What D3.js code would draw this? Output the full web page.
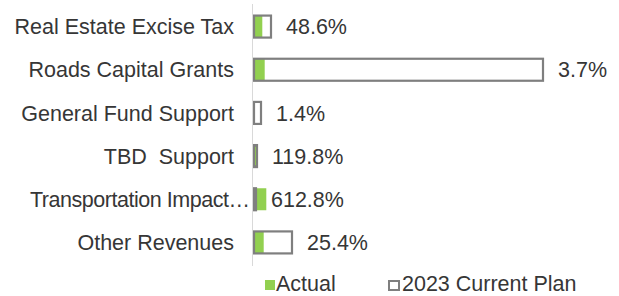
<!DOCTYPE html>
<html>
<head>
<meta charset="utf-8">
<script src="https://cdn.jsdelivr.net/npm/d3@7"></script>
<style>
	body { margin: 0; background: #fff; }
	text { font-family: 'Liberation Sans', Arial, sans-serif; fill: #363636; white-space: pre; }
</style>
</head>
<body>
<div class="svg-container"></div>
<script>
const w = 619;
const h = 296;

// revenue sources ($K)
const categories = [
	'Real Estate Excise Tax',
	'Roads Capital Grants',
	'General Fund Support',
	'TBD  Support',
	'Transportation Impact…',
	'Other Revenues',
];
const planValues = [170, 2890, 70, 30, 20, 380];
const actualValues = [83, 107, 1, 36, 123, 97];
const pctLabels = ['48.6%', '3.7%', '1.4%', '119.8%', '612.8%', '25.4%'];
const legendLabels = ['Actual', '2023 Current Plan'];

const green = '#92d050';
const grey = '#7f7f7f';
const fontSize = '21.5px';

const rows = categories.map((c, i) => ({
	cat: c,
	plan: planValues[i],
	actual: actualValues[i],
	pct: pctLabels[i],
}));

const svg = d3
	.select('.svg-container')
	.append('svg')
	.attr('width', w)
	.attr('height', h)
	.style('background-color', '#fff');

const xScale = d3.scaleLinear().domain([0, 2890]).range([254, 543]);

const yScale = d3
	.scaleBand()
	.domain(categories)
	.range([5, 264])
	.paddingInner(0.48)
	.paddingOuter(0.24);

const barH = 22;
const yc = d => yScale(d.cat) + yScale.bandwidth() / 2;

// plan bars (hollow)
svg
	.selectAll('rect.plan')
	.data(rows)
	.enter()
	.append('rect')
	.attr('class', 'plan')
	.attr('x', xScale(0))
	.attr('y', d => yc(d) - barH / 2)
	.attr('width', d => xScale(d.plan) - xScale(0))
	.attr('height', barH)
	.attr('fill', '#fff');

// actual bars
svg
	.selectAll('rect.actual')
	.data(rows)
	.enter()
	.append('rect')
	.attr('class', 'actual')
	.attr('x', xScale(0))
	.attr('y', d => yc(d) - barH / 2)
	.attr('width', d => xScale(d.actual) - xScale(0))
	.attr('height', barH)
	.attr('fill', green);

// plan outline on top
svg
	.selectAll('rect.outline')
	.data(rows)
	.enter()
	.append('rect')
	.attr('class', 'outline')
	.attr('x', xScale(0))
	.attr('y', d => yc(d) - barH / 2)
	.attr('width', d => xScale(d.plan) - xScale(0))
	.attr('height', barH)
	.attr('fill', 'none')
	.attr('stroke', grey)
	.attr('stroke-width', 2.2);

// vertical axis line
svg
	.append('line')
	.attr('x1', 252.5)
	.attr('x2', 252.5)
	.attr('y1', 4)
	.attr('y2', 266)
	.attr('stroke', '#d9d9d9')
	.attr('stroke-width', 1);

// category labels
svg
	.selectAll('text.cat')
	.data(rows)
	.enter()
	.append('text')
	.attr('class', 'cat')
	.attr('x', d => (d.cat.endsWith('…') ? 250 : 234))
	.attr('y', d => yc(d))
	.attr('dy', '0.36em')
	.attr('xml:space', 'preserve')
	.style('text-anchor', 'end')
	.style('font-size', fontSize)
	.text(d => d.cat)
	.filter(d => d.cat.endsWith('…'))
	.attr('textLength', 220)
	.attr('lengthAdjust', 'spacing');

// percent labels
svg
	.selectAll('text.pct')
	.data(rows)
	.enter()
	.append('text')
	.attr('class', 'pct')
	.attr('x', d => xScale(d.plan) + 15)
	.attr('y', d => yc(d))
	.attr('dy', '0.36em')
	.style('font-size', fontSize)
	.text(d => d.pct);

// legend
const legend = svg.append('g').attr('transform', 'translate(0, 283)');

legend
	.append('rect')
	.attr('x', 265)
	.attr('y', -3)
	.attr('width', 10)
	.attr('height', 10)
	.attr('fill', green);

legend
	.append('text')
	.attr('x', 276)
	.attr('dy', '0.36em')
	.style('font-size', fontSize)
	.text(legendLabels[0]);

legend
	.append('rect')
	.attr('x', 389)
	.attr('y', -2)
	.attr('width', 10)
	.attr('height', 9)
	.attr('fill', '#fff')
	.attr('stroke', grey)
	.attr('stroke-width', 2);

legend
	.append('text')
	.attr('x', 402)
	.attr('dy', '0.36em')
	.style('font-size', fontSize)
	.text(legendLabels[1]);
</script>
</body>
</html>
